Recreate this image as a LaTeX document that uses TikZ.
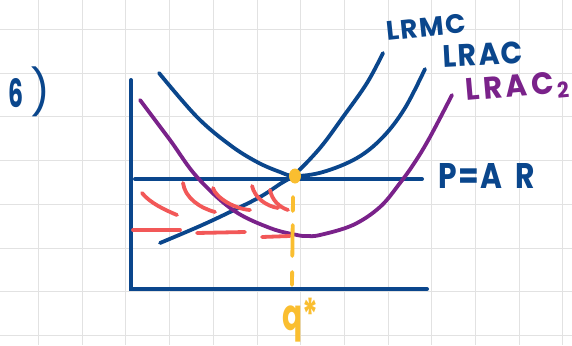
\documentclass[tikz,border=0pt]{standalone}
\usepackage{fontspec}
\newfontfamily\hand{Poppins}
\usetikzlibrary{shapes.geometric}
\definecolor{inkblue}{RGB}{10,70,140}
\definecolor{inkpurple}{RGB}{122,34,138}
\definecolor{inkred}{RGB}{242,88,88}
\definecolor{inkyellow}{RGB}{250,190,48}
\definecolor{gridgray}{RGB}{226,226,226}
\begin{document}
\begin{tikzpicture}[x=1pt,y=-1pt,
  gridline/.style={draw=gridgray,line width=1pt},
  axisline/.style={draw=inkblue,line width=4pt,line cap=round},
  curve/.style={line width=3.8pt,line cap=round,line join=round},
  hatch/.style={draw=inkred,line width=3.8pt,line cap=round},
  qline/.style={draw=inkyellow,line width=3.8pt,line cap=round,
    dash pattern=on 14pt off 14pt on 31pt off 16pt on 13pt off 40pt},
  dot/.style={ellipse,fill=inkyellow,minimum width=12pt,minimum height=15pt,inner sep=0pt},
  lbl/.style={inner sep=0pt,font=\hand\bfseries},
]
\useasboundingbox (0,0) rectangle (572,345);
\fill[white] (0,0) rectangle (572,345);
% grid paper
\foreach \i in {0,...,12} \draw[gridline] ({38.5+43.7*\i},0) -- ({38.5+43.7*\i},345);
\foreach \j in {0,...,7} \draw[gridline] (0,{29.5+43.7*\j}) -- (572,{29.5+43.7*\j});
% axes
\coordinate (ytop) at (131,80);
\coordinate (O) at (131,289);
\coordinate (xend) at (427,289);
\draw[axisline] (ytop) -- (O) -- (xend);
% P = AR
\coordinate (pl) at (135,179);
\coordinate (pr) at (422,179);
\draw[axisline] (pl) -- (pr);
% curves
\draw[curve,draw=inkblue] plot[smooth,tension=0.6] coordinates {(159,73) (197,117) (230,145) (257,162) (280,172) (295,176) (323,172) (357,158) (383,137) (405,108) (425,69)};
\draw[curve,draw=inkblue] plot[smooth,tension=0.6] coordinates {(160,243) (200,226) (230,212) (260,197) (280,184) (295,174) (320,148) (343,117) (367,83) (383,53)};
\draw[curve,draw=inkpurple] plot[smooth,tension=0.6] coordinates {(140,100) (170,140) (197,177) (233,210) (270,228) (297,235) (307,236) (320,235) (353,225) (380,207) (400,183) (415,162) (430,137) (452,95)};
% red hatching
\draw[hatch] (142,193) .. controls (150,203) and (165,210) .. (177,215);
\draw[hatch] (183,183) .. controls (185,198) and (200,208) .. (215,212);
\draw[hatch] (213,188) .. controls (216,198) and (235,209) .. (250,210);
\draw[hatch] (252,186) .. controls (255,198) and (266,206) .. (278,208);
\draw[hatch] (270,190) .. controls (272,200) and (279,207) .. (288,210);
\draw[hatch] (133,230) -- (180,230);
\draw[hatch] (197,233) -- (245,232);
\draw[hatch] (262,237) -- (290,236);
% q* dashed line and point
\coordinate (qtop) at (293,197);
\coordinate (qbot) at (292,285);
\draw[qline] (qtop) -- (qbot);
\node[dot] (eq) at (295,176) {};
% labels
\node[lbl,text=inkblue,anchor=north west] (six) at (8,78) {\resizebox{15pt}{29pt}{6}};
\node[lbl,text=inkblue,anchor=north west] (paren) at (30,67) {\resizebox*{20pt}{50pt}{\mdseries )}};
\node[lbl,text=inkblue,rotate=6] (lrmc) at (426,27) {\resizebox{80pt}{19pt}{L\kern0.06em R\kern0.06em M\kern0.06em C}};
\node[lbl,text=inkblue,rotate=3] (lrac) at (483,54.5) {\resizebox{80pt}{22pt}{L\kern0.06em R\kern0.06em A\kern0.06em C}};
\node[lbl,text=inkpurple,rotate=5] (lrac2) at (518,88) {\resizebox{104pt}{22pt}{L\kern0.12em R\kern0.12em A\kern0.12em C\kern0.1em\textsubscript{2}}};
\node[lbl,text=inkblue,anchor=north west] (par) at (438,163) {\resizebox{97pt}{25pt}{P\kern0.05em=\kern0.05em A\kern0.45em R}};
\node[lbl,text=inkyellow,anchor=north west] (qstar) at (282,298) {\resizebox*{36pt}{44pt}{q*}};
\end{tikzpicture}
\end{document}
